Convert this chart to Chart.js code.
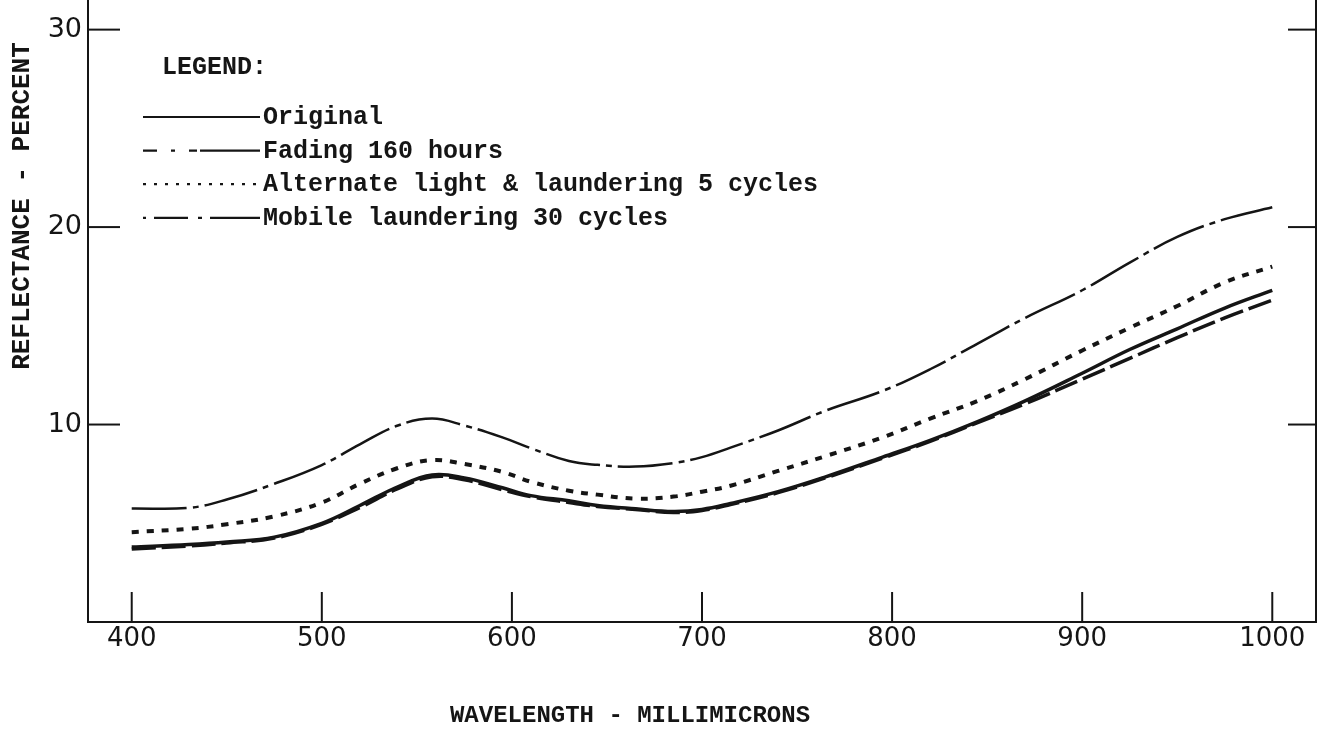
<!DOCTYPE html>
<html><head><meta charset="utf-8">
<style>html,body{margin:0;padding:0;background:#fff;overflow:hidden}canvas{display:block}</style>
<script src="https://cdn.jsdelivr.net/npm/chart.js@4.4.0/dist/chart.umd.min.js"></script>
</head><body>
<canvas id="c" width="1318" height="733"></canvas>
<script>
const wavelengths = [400, 430, 450, 475, 500, 520, 540, 558, 575, 595, 610, 630, 645, 665, 685, 700, 715, 740, 765, 795, 820, 845, 870, 900, 925, 950, 975, 1000];
const original   = [3.8, 3.92, 4.05, 4.3, 5.0, 5.9, 6.85, 7.45, 7.3, 6.8, 6.4, 6.14, 5.9, 5.73, 5.6, 5.7, 6.0, 6.6, 7.35, 8.35, 9.2, 10.15, 11.2, 12.6, 13.8, 14.85, 15.9, 16.8];
const fading160  = [3.7, 3.85, 4.0, 4.25, 4.95, 5.8, 6.75, 7.35, 7.2, 6.7, 6.35, 6.05, 5.85, 5.7, 5.55, 5.65, 5.95, 6.55, 7.3, 8.3, 9.15, 10.1, 11.05, 12.3, 13.35, 14.4, 15.4, 16.3];
const alternate5 = [4.55, 4.72, 4.95, 5.35, 6.05, 7.0, 7.8, 8.2, 8.0, 7.6, 7.1, 6.65, 6.45, 6.25, 6.35, 6.6, 6.9, 7.65, 8.4, 9.35, 10.3, 11.2, 12.3, 13.75, 14.9, 16.0, 17.2, 18.0];
const mobile30   = [5.75, 5.78, 6.2, 7.0, 7.95, 9.0, 9.95, 10.3, 9.95, 9.35, 8.8, 8.15, 7.96, 7.87, 8.05, 8.35, 8.83, 9.7, 10.7, 11.7, 12.8, 14.1, 15.4, 16.8, 18.2, 19.5, 20.4, 21.0];
const xTicks = [400, 500, 600, 700, 800, 900, 1000];
const yTicks = [10, 20, 30];
const seriesNames = ['Original', 'Fading 160 hours', 'Alternate light & laundering 5 cycles', 'Mobile laundering 30 cycles'];
const legendTitle = 'LEGEND:';
const xTitle = 'WAVELENGTH - MILLIMICRONS';
const yTitle = 'REFLECTANCE - PERCENT';

const INK = '#151515';
Chart.defaults.font.family = '"DejaVu Sans", sans-serif';
Chart.defaults.color = INK;

function pts(arr) { return wavelengths.map((w, i) => ({ x: w, y: arr[i] })); }

const decor = {
  id: 'decor',
  afterDraw(chart) {
    const { ctx, chartArea: a, scales: { x, y } } = chart;
    const line = (x1, y1, x2, y2) => { ctx.beginPath(); ctx.moveTo(x1, y1); ctx.lineTo(x2, y2); ctx.stroke(); };
    ctx.save();
    ctx.strokeStyle = INK; ctx.lineWidth = 2; ctx.setLineDash([]);
    line(a.right, a.top, a.right, a.bottom);
    xTicks.forEach(v => { const px = x.getPixelForValue(v); line(px, a.bottom, px, a.bottom - 30); });
    yTicks.forEach(v => { const py = y.getPixelForValue(v); line(a.left, py, a.left + 32, py); line(a.right - 28, py, a.right, py); });
    // axis titles
    ctx.fillStyle = INK;
    ctx.textAlign = 'center'; ctx.textBaseline = 'middle';
    ctx.font = 'bold 24px "Liberation Mono"';
    ctx.fillText(xTitle, 630, 716);
    ctx.save();
    ctx.translate(22, 206); ctx.rotate(-Math.PI / 2);
    ctx.font = 'bold 26px "Liberation Mono"';
    ctx.fillText(yTitle, 0, 0);
    ctx.restore();
    // legend
    ctx.font = 'bold 25px "Liberation Mono"';
    ctx.textAlign = 'left';
    ctx.fillText(legendTitle, 162, 68);
    chart.data.datasets.forEach((ds, i) => {
      const ry = 117 + i * 33.6;
      ctx.save();
      ctx.lineWidth = 2.2;
      ctx.setLineDash(ds.legendDash || []);
      line(143, ry, 260, ry);
      ctx.restore();
      ctx.fillText(ds.label, 263, ry + 1);
    });
    ctx.restore();
  }
};

new Chart(document.getElementById('c'), {
  type: 'line',
  data: {
    datasets: [
      { label: seriesNames[0], data: pts(original), borderColor: INK, borderWidth: 3.5, borderDash: [], legendDash: [] },
      { label: seriesNames[1], data: pts(fading160), borderColor: INK, borderWidth: 3.5, borderDash: [24, 6], legendDash: [14, 14, 4, 14, 8, 3, 80] },
      { label: seriesNames[2], data: pts(alternate5), borderColor: INK, borderWidth: 4, borderDash: [7, 8], legendDash: [3, 8] },
      { label: seriesNames[3], data: pts(mobile30), borderColor: INK, borderWidth: 2.5, borderDash: [55, 6, 6, 6], legendDash: [3, 8, 34, 10, 4, 8, 80] }
    ]
  },
  options: {
    responsive: false,
    animation: false,
    layout: { padding: { top: 0, right: 2, left: 0, bottom: 0 } },
    elements: { point: { radius: 0 }, line: { tension: 0.4, fill: false } },
    plugins: { legend: { display: false }, tooltip: { enabled: false } },
    scales: {
      x: {
        type: 'linear', min: 377, max: 1023,
        grid: { display: false, drawTicks: false },
        border: { display: true, color: INK, width: 2 },
        afterBuildTicks: s => { s.ticks = xTicks.map(v => ({ value: v })); },
        ticks: { font: { size: 26 }, padding: 2, color: INK, maxRotation: 0, callback: v => String(v) },
        afterFit: s => { s.height = 111; s.paddingLeft = 0; s.paddingRight = 0; }
      },
      y: {
        type: 'linear', min: 0, max: 31.5,
        grid: { display: false, drawTicks: false },
        border: { display: true, color: INK, width: 2 },
        afterBuildTicks: s => { s.ticks = yTicks.map(v => ({ value: v })); },
        ticks: { font: { size: 27 }, padding: 6, color: INK, callback: v => String(v) },
        afterFit: s => { s.width = 88; s.paddingTop = 0; s.paddingBottom = 0; }
      }
    }
  },
  plugins: [decor]
});
</script>
</body></html>
